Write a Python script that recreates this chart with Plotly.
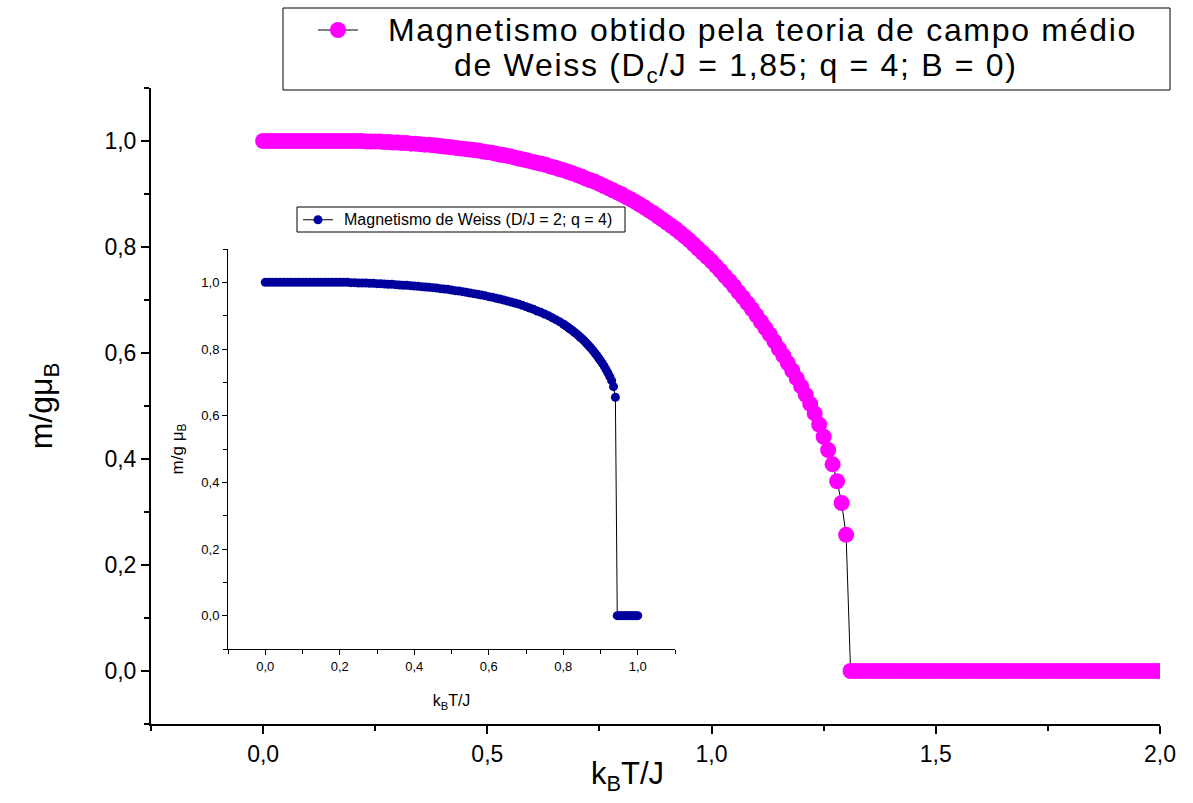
import numpy as np
import plotly.graph_objects as go

# ---------------- data ----------------
# main curve: k_B T / J sampled every 0.01
main_T_ordered = np.round(np.arange(0.0, 1.3001, 0.01), 2)
main_m_ordered = [
    1.000, 1.000, 1.000, 1.000, 1.000, 1.000, 1.000, 1.000, 1.000, 1.000,
    1.000, 1.000, 1.000, 1.000, 1.000, 1.000, 1.000, 1.000, 1.000, 1.000,
    1.000,
    1.000, 1.000, 0.999, 0.999, 0.999, 0.999, 0.998, 0.998, 0.997, 0.997,
    0.996, 0.996, 0.995, 0.995, 0.994, 0.993, 0.993, 0.992, 0.991, 0.990,
    0.989, 0.988, 0.987, 0.986, 0.985, 0.984, 0.983, 0.982, 0.980, 0.979,
    0.978, 0.976, 0.974, 0.973, 0.971, 0.969, 0.967, 0.965, 0.963, 0.961,
    0.959, 0.957, 0.955, 0.952, 0.950, 0.947, 0.945, 0.942, 0.939, 0.936,
    0.933, 0.929, 0.926, 0.923, 0.919, 0.915, 0.911, 0.907, 0.903, 0.899,
    0.894, 0.890, 0.885, 0.880, 0.875, 0.869, 0.864, 0.858, 0.852, 0.846,
    0.840, 0.834, 0.827, 0.820, 0.813, 0.805, 0.797, 0.789, 0.781, 0.773,
    0.764, 0.755, 0.745, 0.736, 0.726, 0.715, 0.705, 0.694, 0.683, 0.671,
    0.659, 0.647, 0.635, 0.622, 0.608, 0.595, 0.581, 0.567, 0.552, 0.537,
    0.521, 0.504, 0.486, 0.465, 0.442, 0.417, 0.390, 0.358, 0.317, 0.257,
]
main_T_para = np.round(np.arange(1.31, 2.0001, 0.01), 2)
main_m_para = [
    0.0, 0.0, 0.0, 0.0, 0.0, 0.0, 0.0, 0.0, 0.0, 0.0,
    0.0, 0.0, 0.0, 0.0, 0.0, 0.0, 0.0, 0.0, 0.0, 0.0,
    0.0, 0.0, 0.0, 0.0, 0.0, 0.0, 0.0, 0.0, 0.0, 0.0,
    0.0, 0.0, 0.0, 0.0, 0.0, 0.0, 0.0, 0.0, 0.0, 0.0,
    0.0, 0.0, 0.0, 0.0, 0.0, 0.0, 0.0, 0.0, 0.0, 0.0,
    0.0, 0.0, 0.0, 0.0, 0.0, 0.0, 0.0, 0.0, 0.0, 0.0,
    0.0, 0.0, 0.0, 0.0, 0.0, 0.0, 0.0, 0.0, 0.0, 0.0,
]

# inset curve: every 0.01 up to 0.79, then every 0.005
inset_T_coarse = list(np.round(np.arange(0.0, 0.7901, 0.01), 2))
inset_m_coarse = [
    1.000, 1.000, 1.000, 1.000, 1.000, 1.000, 1.000, 1.000, 1.000, 1.000,
    1.000, 1.000, 1.000, 1.000, 1.000, 1.000, 1.000, 1.000, 1.000, 1.000,
    1.000,
    1.000, 1.000, 0.999, 0.999, 0.998, 0.998, 0.998, 0.997, 0.997, 0.996,
    0.996, 0.995, 0.994, 0.994, 0.993, 0.992, 0.991, 0.991, 0.990, 0.989,
    0.988, 0.987, 0.986, 0.985, 0.984, 0.983, 0.981, 0.980, 0.979, 0.977,
    0.975, 0.974, 0.972, 0.970, 0.968, 0.966, 0.964, 0.962, 0.960, 0.957,
    0.955, 0.952, 0.950, 0.947, 0.944, 0.941, 0.938, 0.935, 0.931, 0.927,
    0.923, 0.919, 0.914, 0.910, 0.905, 0.900, 0.894, 0.888, 0.882,
]
inset_T_fine = list(np.round(np.arange(0.80, 0.9401, 0.005), 3))
inset_m_fine = [
    0.875, 0.871, 0.867, 0.863, 0.859, 0.855, 0.850, 0.846, 0.841, 0.836,
    0.831, 0.826, 0.820, 0.814, 0.808, 0.802, 0.795, 0.788, 0.781, 0.773,
    0.765, 0.757, 0.748, 0.738, 0.728, 0.717, 0.705, 0.687, 0.655,
]
inset_T_para = list(np.round(np.arange(0.945, 1.0001, 0.005), 3))
inset_m_para = [0.0, 0.0, 0.0, 0.0, 0.0, 0.0, 0.0, 0.0, 0.0, 0.0, 0.0, 0.0]

main_T = list(main_T_ordered) + list(main_T_para)
main_m = list(main_m_ordered) + list(main_m_para)
inset_T = inset_T_coarse + inset_T_fine + inset_T_para
inset_m = inset_m_coarse + inset_m_fine + inset_m_para

main_legend_line1 = "Magnetismo obtido pela teoria de campo médio"
main_legend_line2 = "de Weiss (D<sub>c</sub>/J = 1,85; q = 4; B = 0)"
inset_legend_text = "Magnetismo de Weiss (D/J = 2; q = 4)"

x_main_ticks = [0.0, 0.5, 1.0, 1.5, 2.0]
x_main_labels = ["0,0", "0,5", "1,0", "1,5", "2,0"]
y_main_ticks = [0.0, 0.2, 0.4, 0.6, 0.8, 1.0]
y_main_labels = ["0,0", "0,2", "0,4", "0,6", "0,8", "1,0"]
x_inset_ticks = [0.0, 0.2, 0.4, 0.6, 0.8, 1.0]
x_inset_labels = ["0,0", "0,2", "0,4", "0,6", "0,8", "1,0"]
y_inset_ticks = [0.0, 0.2, 0.4, 0.6, 0.8, 1.0]
y_inset_labels = ["0,0", "0,2", "0,4", "0,6", "0,8", "1,0"]

# ---------------- figure ----------------
FONT = "Liberation Sans, Arial, sans-serif"
NARROW = "Liberation Sans Narrow, Arial Narrow, Liberation Sans, Arial, sans-serif"
MAGENTA = "#FF00FF"
NAVY = "#00009C"

W, H = 1193, 803
L, R, T, B = 151, 33, 88, 79
pw, ph = W - L - R, H - T - B


def px(xp):
    return (xp - L) / pw


def py(yp):
    return (H - B - yp) / ph


def spaced(s, ls):
    return "<span style='letter-spacing:%.1fpx'>%s</span>" % (ls, s)


fig = go.Figure()

fig.add_trace(go.Scatter(
    x=main_T, y=main_m, mode="lines+markers", name="\u00a0",
    line=dict(color="black", width=1),
    marker=dict(color=MAGENTA, size=16, line=dict(width=0)),
    xaxis="x", yaxis="y", legend="legend",
))

fig.add_trace(go.Scatter(
    x=inset_T, y=inset_m, mode="lines+markers", name="\u00a0",
    line=dict(color="black", width=1),
    marker=dict(color=NAVY, size=9, line=dict(width=0)),
    xaxis="x2", yaxis="y2", legend="legend2",
))

axis_common = dict(showgrid=False, zeroline=False, showline=True,
                   linecolor="black", ticks="outside", tickcolor="black")

fig.update_layout(
    width=W, height=H,
    margin=dict(l=L, r=R, t=T, b=B, autoexpand=False),
    paper_bgcolor="white", plot_bgcolor="white",
    font=dict(family=FONT, color="black"),
    xaxis=dict(
        **axis_common, range=[-0.25, 2.0], linewidth=2, tickwidth=2, ticklen=8,
        tickvals=x_main_ticks, ticktext=x_main_labels,
        tickfont=dict(size=23, family=FONT),
        minor=dict(dtick=0.25, tick0=0, ticks="outside", ticklen=5, tickwidth=2, tickcolor="black"),
    ),
    yaxis=dict(
        **axis_common, range=[-0.1, 1.1], linewidth=2, tickwidth=2, ticklen=8,
        tickvals=y_main_ticks, ticktext=y_main_labels,
        tickfont=dict(size=23, family=FONT),
        minor=dict(dtick=0.1, tick0=0, ticks="outside", ticklen=5, tickwidth=2, tickcolor="black"),
        title=dict(text="m/gμ<sub>B</sub>", font=dict(size=32, family=FONT), standoff=42),
    ),
    xaxis2=dict(
        **axis_common, domain=[px(228), px(675)], anchor="y2",
        range=[-0.1, 1.1], linewidth=1, tickwidth=1, ticklen=5,
        tickvals=x_inset_ticks, ticktext=x_inset_labels,
        tickfont=dict(size=13, family=NARROW),
        minor=dict(dtick=0.1, tick0=0, ticks="outside", ticklen=4, tickwidth=1, tickcolor="black"),
        title=dict(text="k<sub>B</sub>T/J", font=dict(size=16, family=NARROW), standoff=22),
    ),
    yaxis2=dict(
        **axis_common, domain=[py(649), py(249)], anchor="x2",
        range=[-0.1, 1.1], linewidth=1, tickwidth=1, ticklen=5,
        tickvals=y_inset_ticks, ticktext=y_inset_labels,
        tickfont=dict(size=13, family=NARROW),
        minor=dict(dtick=0.1, tick0=0, ticks="outside", ticklen=4, tickwidth=1, tickcolor="black"),
        title=dict(text="m/g μ<sub>B</sub>", font=dict(size=17, family=NARROW), standoff=13),
    ),
    legend=dict(
        x=px(313), y=py(30), xanchor="left", yanchor="middle",
        bgcolor="rgba(0,0,0,0)", borderwidth=0,
        font=dict(size=30, family=FONT), itemwidth=40,
    ),
    legend2=dict(
        x=px(298), y=py(220), xanchor="left", yanchor="middle",
        bgcolor="rgba(0,0,0,0)", borderwidth=0,
        font=dict(size=15, family=NARROW), itemwidth=30,
    ),
    showlegend=True,
)

# main legend frame and its two text lines
fig.add_shape(type="rect", xref="paper", yref="paper",
              x0=px(283), x1=px(1170), y0=py(90), y1=py(8),
              line=dict(color="black", width=1), fillcolor="white", layer="below")
fig.add_annotation(xref="paper", yref="paper", x=px(762), y=py(30),
                   xanchor="center", yanchor="middle", showarrow=False,
                   text=spaced(main_legend_line1, 1.7), font=dict(size=32, family=FONT))
fig.add_annotation(xref="paper", yref="paper", x=px(736), y=py(67),
                   xanchor="center", yanchor="middle", showarrow=False,
                   text=spaced(main_legend_line2, 1.7), font=dict(size=32, family=FONT))

# inset legend frame and text
fig.add_shape(type="rect", xref="paper", yref="paper",
              x0=px(297), x1=px(625), y0=py(232), y1=py(207),
              line=dict(color="black", width=1), fillcolor="white", layer="below")
fig.add_annotation(xref="paper", yref="paper", x=px(342), y=py(220),
                   xanchor="left", yanchor="middle", showarrow=False,
                   text=inset_legend_text, font=dict(size=16, family=NARROW))

# main x-axis title
fig.add_annotation(xref="paper", yref="paper", x=px(627), y=py(776),
                   xanchor="center", yanchor="middle", showarrow=False,
                   text="k<sub>B</sub>T/J", font=dict(size=31, family=FONT))

fig.write_html("out.html")
